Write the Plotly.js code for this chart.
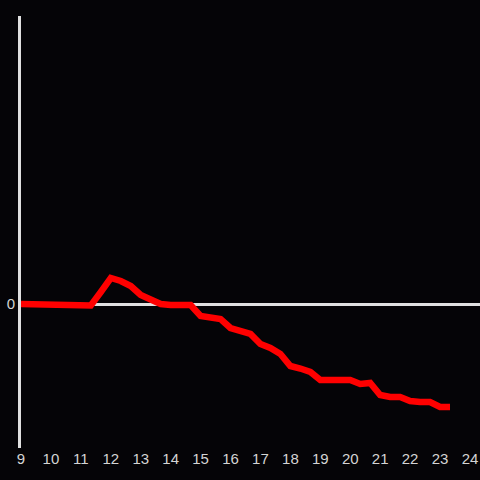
<!DOCTYPE html>
<html>
<head>
<meta charset="utf-8">
<script src="https://cdn.plot.ly/plotly-3.0.1.min.js"></script>
<style>html,body{margin:0;padding:0;background:#050407;}#chart{width:480px;height:480px;}</style>
</head>
<body>
<div id="chart"></div>
<script>
var hours = [9, 9.333, 9.667, 10, 10.333, 10.667, 11, 11.333, 11.667, 12, 12.333, 12.667, 13, 13.333, 13.667,
  14, 14.333, 14.667, 15, 15.333, 15.667, 16, 16.333, 16.667, 17, 17.333, 17.667, 18, 18.333, 18.667,
  19, 19.333, 19.667, 20, 20.333, 20.667, 21, 21.333, 21.667, 22, 22.333, 22.667, 23, 23.333];
var values = [0, 0, 0, 0, 0, 0, 0, -0.15, 1.2, 2.6, 2.3, 1.8, 0.9, 0.4, 0.0,
  -0.1, -0.1, -0.1, -1.2, -1.35, -1.5, -2.4, -2.75, -3.0, -4.0, -4.4, -5.0, -6.2, -6.45, -6.8,
  -7.6, -7.6, -7.6, -7.6, -8.0, -7.9, -9.1, -9.3, -9.3, -9.7, -9.8, -9.8, -10.3, -10.3];
var xTicks = [9, 10, 11, 12, 13, 14, 15, 16, 17, 18, 19, 20, 21, 22, 23, 24];

Plotly.newPlot('chart', [{
  x: hours, y: values, type: 'scatter', mode: 'lines',
  line: {color: '#ff0000', width: 6.5}, hoverinfo: 'none'
}], {
  width: 480, height: 480,
  paper_bgcolor: '#050407', plot_bgcolor: '#050407',
  margin: {l: 21, r: 0, t: 16, b: 32},
  showlegend: false,
  font: {family: 'Liberation Sans, Arial, sans-serif', size: 15, color: '#d4d4d4'},
  xaxis: {range: [9, 24.335], tickvals: xTicks, ticktext: xTicks.map(String),
    showgrid: false, zeroline: false, showline: false, ticks: '', fixedrange: true},
  yaxis: {range: [-14.4, 28.8], tickvals: [0], ticktext: ['0'], showgrid: false,
    zeroline: true, zerolinecolor: '#e0e0e0', zerolinewidth: 3,
    showline: true, linecolor: '#e0e0e0', linewidth: 3, ticks: '', fixedrange: true}
}, {displayModeBar: false, staticPlot: true});
</script>
</body>
</html>
